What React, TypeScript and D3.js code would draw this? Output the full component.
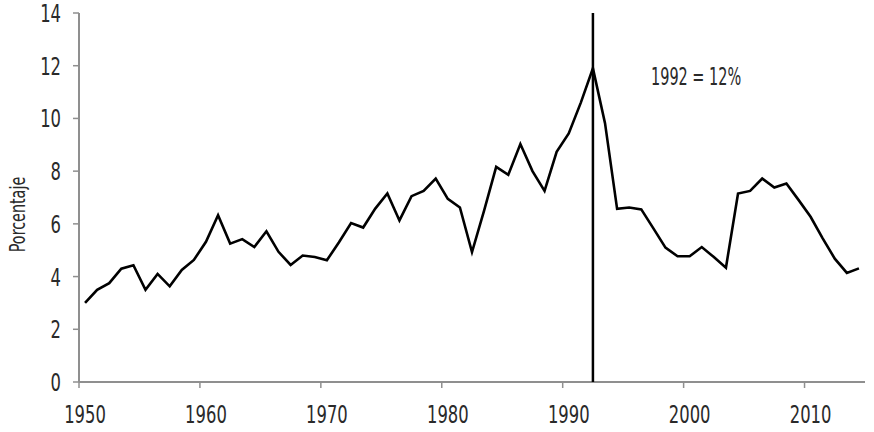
import * as d3 from 'd3';

const START_YEAR = 1950;
const END_YEAR = 2015;
const RATE = [
  3.0, 3.5, 3.75, 4.3, 4.43, 3.5, 4.1, 3.63, 4.25, 4.63,
  5.32, 6.33, 5.25, 5.42, 5.12, 5.72, 4.94, 4.44, 4.8, 4.74,
  4.62, 5.3, 6.03, 5.86, 6.58, 7.15, 6.13, 7.05, 7.25, 7.72,
  6.95, 6.62, 4.93, 6.5, 8.16, 7.86, 9.03, 8.0, 7.25, 8.73,
  9.43, 10.6, 11.9, 9.82, 6.57, 6.62, 6.55, 5.83, 5.1, 4.77,
  4.77, 5.12, 4.74, 4.34, 7.15, 7.25, 7.72, 7.38, 7.53, 6.91,
  6.27, 5.45, 4.68, 4.14, 4.31,
];
const X_TICKS = [1950, 1960, 1970, 1980, 1990, 2000, 2010];
const Y_TICKS = [0, 2, 4, 6, 8, 10, 12, 14];
const MARK_YEAR = 1992;
const MARK_LABEL = '1992 = 12%';
const Y_LABEL = 'Porcentaje';

const W = 874;
const H = 432;
const m = { top: 13, right: 9, bottom: 50, left: 79 };
const FONT = '"DejaVu Sans Condensed", "DejaVu Sans", sans-serif';
const AXIS = '#8f8f8f';
const TXT = '#2a2a2a';

// the original face is a tall, narrow condensed font: squeeze DejaVu horizontally
function Label({ x, y, anchor = 'start', size = 24, squeeze = 0.76, children }: any) {
  return (
    <text transform={`translate(${x},${y}) scale(${squeeze},1)`} textAnchor={anchor}
      fontSize={size} fill={TXT}>{children}</text>
  );
}

export default function App() {
  const x = d3.scaleLinear().domain([START_YEAR, END_YEAR]).range([m.left, W - m.right]);
  const y = d3.scaleLinear().domain([0, 14]).range([H - m.bottom, m.top]);

  // points sit in the middle of each year's slot
  const pts = RATE.map((v, i) => [x(START_YEAR + i + 0.5), y(v)] as [number, number]);
  const path = d3.line()(pts) ?? '';
  const markX = x(MARK_YEAR + 0.5);
  const y0 = y(0);

  return (
    <svg width={W} height={H} style={{ position: 'absolute', left: 0, top: 0, background: '#fff' }}
      fontFamily={FONT}>
      {/* y axis */}
      <line x1={m.left} x2={m.left} y1={y(14)} y2={y0} stroke={AXIS} strokeWidth={2} />
      {Y_TICKS.map(t => (
        <g key={t}>
          <line x1={m.left - 6} x2={m.left} y1={y(t)} y2={y(t)} stroke={AXIS} strokeWidth={1.5} />
          <Label x={m.left - 18} y={y(t) + 9} anchor="end">{t}</Label>
        </g>
      ))}
      <text transform={`translate(25,${(y(14) + y0) / 2 + 17}) rotate(-90) scale(0.76,1)`}
        textAnchor="middle" fontSize={21} fill={TXT}>{Y_LABEL}</text>

      {/* x axis */}
      <line x1={m.left} x2={W - m.right} y1={y0} y2={y0} stroke={AXIS} strokeWidth={2} />
      {X_TICKS.map(t => (
        <g key={t}>
          <line x1={x(t)} x2={x(t)} y1={y0} y2={y0 + 6} stroke={AXIS} strokeWidth={1.5} />
          <Label x={x(t + 0.5)} y={423} anchor="middle">{t}</Label>
        </g>
      ))}

      {/* marker line */}
      <line x1={markX} x2={markX} y1={y(14)} y2={y0} stroke="#000" strokeWidth={2.5} />
      <Label x={651} y={85} squeeze={0.67}>{MARK_LABEL}</Label>

      <path d={path} fill="none" stroke="#000" strokeWidth={2.6} strokeLinejoin="miter" />
    </svg>
  );
}
